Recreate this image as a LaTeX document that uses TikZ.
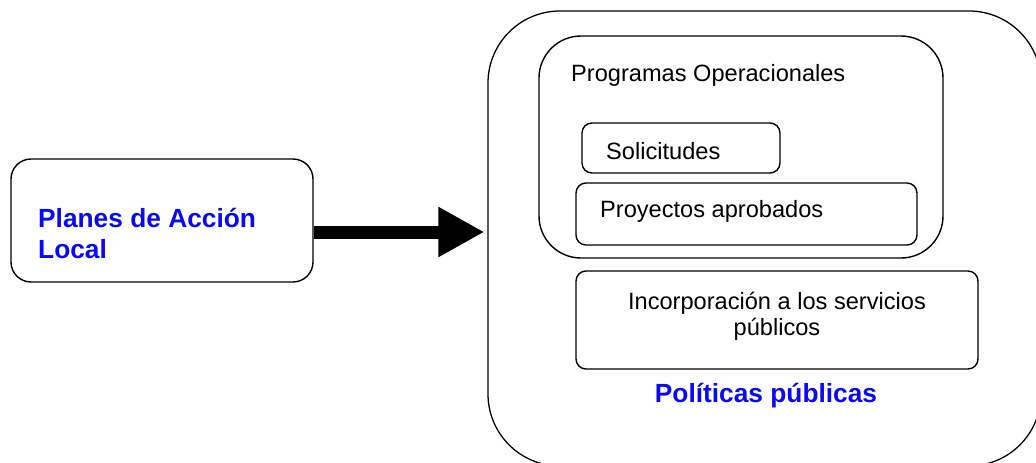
\documentclass[tikz,border=0pt]{standalone}
\usepackage{fontspec}
\setmainfont{Liberation Sans}
\usetikzlibrary{arrows.meta}
\definecolor{txtblue}{RGB}{10,10,240}
\tikzset{
  box/.style={draw=black, line width=1.4pt, rectangle, inner sep=0pt, fill=white},
  reg/.style={inner sep=0pt, font=\fontsize{23.6}{25.5}\selectfont, text=black},
  bld/.style={inner sep=0pt, font=\fontsize{26.3}{31}\selectfont\bfseries, text=txtblue},
}
\begin{document}
\begin{tikzpicture}[x=1pt,y=-1pt]
\clip (0,0) rectangle (1036,463);
\fill[white] (0,0) rectangle (1036,463);
% outer container
\node[box, line width=1.3pt, rounded corners=72pt, minimum width=553pt, minimum height=455pt] (outer) at (764.5,238.5) {};
% left box
\node[box, rounded corners=20pt, minimum width=302pt, minimum height=123pt] (left) at (162,220.5) {};
\node[bld, anchor=base west, align=left] (planes) at (38,258) {Planes de Acción\\Local};
% programas operacionales
\node[box, rounded corners=42pt, minimum width=404pt, minimum height=222pt] (prog) at (741,147) {};
\node[reg, anchor=base west] (progt) at (571,81) {Programas Operacionales};
\node[box, rounded corners=10pt, minimum width=198pt, minimum height=50pt] (sol) at (681,148) {};
\node[reg, anchor=base west] (solt) at (606,159) {Solicitudes};
\node[box, rounded corners=10pt, minimum width=341pt, minimum height=62pt] (proy) at (746.5,214) {};
\node[reg, anchor=base west] (proyt) at (600,217) {Proyectos aprobados};
% incorporacion
\node[box, rounded corners=10pt, minimum width=402pt, minimum height=98pt] (inc) at (777,320) {};
\node[reg, anchor=base, align=center] (inct) at (777,335) {Incorporación a los servicios\\públicos};
\node[bld, anchor=base] (pol) at (766,402) {Políticas públicas};
% arrow
\coordinate (arrowy) at (0,232);
\draw[line width=13pt, -{Triangle[length=46pt,width=47pt]}, shorten >=3pt] (left.east |- arrowy) -- (outer.west |- arrowy);
\end{tikzpicture}
\end{document}
